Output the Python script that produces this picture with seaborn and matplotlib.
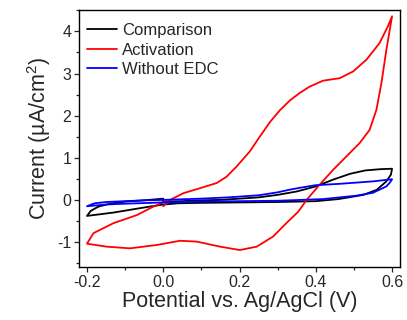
import numpy as np
import pandas as pd
import seaborn as sns
from matplotlib import pyplot as plt
from matplotlib.ticker import MultipleLocator

# cyclic voltammograms, points in sweep order
comparison_E = [0.0, 0.05, 0.10, 0.15, 0.20, 0.25, 0.30, 0.35, 0.40, 0.445, 0.49, 0.53, 0.57, 0.60,
                0.597, 0.585, 0.56, 0.525, 0.46, 0.40, 0.30, 0.20, 0.10, 0.04, 0.0, -0.05, -0.13, -0.20,
                -0.19, -0.17, -0.14, -0.10, -0.05, 0.0]
comparison_I = [-0.04, -0.03, -0.01, 0.0, 0.03, 0.06, 0.12, 0.2, 0.32, 0.48, 0.62, 0.70, 0.73, 0.74,
                0.6, 0.44, 0.24, 0.12, 0.02, -0.03, -0.05, -0.06, -0.07, -0.08, -0.11, -0.18, -0.30, -0.38,
                -0.26, -0.16, -0.09, -0.04, -0.01, 0.03]

activation_E = [0.0, 0.018, 0.053, 0.097, 0.14, 0.166, 0.192, 0.227, 0.253, 0.28, 0.306, 0.332, 0.358,
                0.384, 0.419, 0.463, 0.498, 0.533, 0.567, 0.589, 0.60,
                0.594, 0.585, 0.572, 0.559, 0.541, 0.515, 0.48, 0.445, 0.41, 0.376, 0.354, 0.323, 0.288,
                0.245, 0.201, 0.149, 0.088, 0.044, -0.017, -0.087, -0.148, -0.20,
                -0.183, -0.13, -0.069, -0.026, 0.005]
activation_I = [-0.15, 0.0, 0.16, 0.28, 0.40, 0.55, 0.79, 1.15, 1.50, 1.85, 2.13, 2.36, 2.54,
                2.69, 2.83, 2.89, 3.05, 3.33, 3.72, 4.12, 4.36,
                4.04, 3.56, 2.77, 2.14, 1.66, 1.35, 1.03, 0.71, 0.36, 0.0, -0.28, -0.55, -0.87,
                -1.11, -1.19, -1.11, -0.99, -0.97, -1.07, -1.15, -1.11, -1.04,
                -0.79, -0.55, -0.36, -0.16, -0.04]

without_E = [0.0, 0.10, 0.17, 0.25, 0.30, 0.33, 0.36, 0.40, 0.46, 0.55, 0.60,
             0.595, 0.585, 0.55, 0.506, 0.42, 0.30, 0.20, 0.10, 0.0, -0.10, -0.15, -0.20,
             -0.18, -0.15, -0.10, -0.05, 0.0]
without_I = [0.0, 0.03, 0.06, 0.11, 0.18, 0.24, 0.29, 0.35, 0.38, 0.44, 0.49,
             0.42, 0.32, 0.17, 0.10, 0.02, -0.02, -0.03, -0.04, -0.06, -0.09, -0.11, -0.15,
             -0.08, -0.05, -0.03, -0.01, 0.0]

curves = [("Comparison", comparison_E, comparison_I, "black"),
          ("Activation", activation_E, activation_I, "#ff0000"),
          ("Without EDC", without_E, without_I, "#0000ff")]

sns.set_style("ticks")
plt.rcParams['font.family'] = ['Liberation Sans', 'DejaVu Sans']
plt.rcParams['mathtext.default'] = 'regular'

fig = plt.figure(figsize=(4.07, 3.2), dpi=100)
ax = fig.add_axes([0.194, 0.166, 0.789, 0.803])

for name, E, I, col in curves:
    df = pd.DataFrame({"E": E, "I": I})
    sns.lineplot(data=df, x="E", y="I", sort=False, estimator=None, color=col,
                 linewidth=1.3, label=name, ax=ax)

ax.set_xlim(-0.221, 0.621)
ax.set_ylim(-1.59, 4.51)
ax.xaxis.set_minor_locator(MultipleLocator(0.1))
ax.yaxis.set_minor_locator(MultipleLocator(0.5))
ax.set_xticks([-0.2, 0.0, 0.2, 0.4, 0.6])
ax.set_xticklabels(["-0.2", "0.0", "0.2", "0.4", "0.6"])
ax.set_yticks([-1, 0, 1, 2, 3, 4])
ax.set_yticklabels(["-1", "0", "1", "2", "3", "4"])
ax.tick_params(which='major', direction='out', length=3.5, width=0.9, labelsize=11.5, pad=2)
ax.tick_params(which='minor', direction='out', length=2, width=0.9)
for s in ax.spines.values():
    s.set_visible(True)
    s.set_linewidth(1.0)
    s.set_color('black')

ax.set_xlabel("Potential vs. Ag/AgCl (V)", fontsize=15.5, labelpad=1)
ax.set_ylabel("Current (µA/cm$^2$)", fontsize=15.5, labelpad=3)

ax.legend(loc='upper left', bbox_to_anchor=(-0.016, 1.0), frameon=False, fontsize=12,
          handlelength=1.8, handletextpad=0.3, labelspacing=0.27, borderaxespad=0.5,
          borderpad=0.3)

plt.savefig("out.png", dpi=100)
